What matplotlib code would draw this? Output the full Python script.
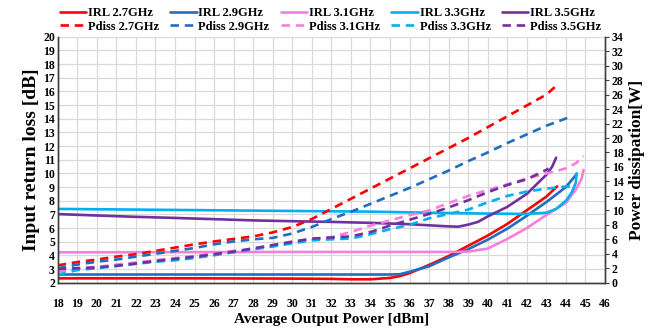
import matplotlib
matplotlib.use("Agg")
import matplotlib.pyplot as plt

plt.rcParams['font.family'] = ['Liberation Serif', 'DejaVu Serif']
plt.rcParams['font.weight'] = 'bold'

# ---- data: IRL (left axis, dB) ----
irl27_x = [18, 20, 25, 30, 32, 33, 34, 35, 35.5, 36, 37, 38, 39, 40, 41, 42, 43, 43.55]
irl27_y = [2.32, 2.32, 2.32, 2.3, 2.28, 2.25, 2.25, 2.35, 2.48, 2.7, 3.3, 3.95, 4.7, 5.45, 6.3, 7.3, 8.3, 9.05]

irl29_x = [18, 25, 30, 35, 35.5, 36, 37, 38, 39, 40, 41, 42, 43, 44, 44.55]
irl29_y = [2.6, 2.6, 2.6, 2.6, 2.62, 2.8, 3.2, 3.85, 4.45, 5.15, 5.95, 6.9, 7.9, 9.0, 9.95]

irl31_x = [18, 30, 38, 39, 40, 41, 42, 43, 44, 44.5, 44.8, 44.9]
irl31_y = [4.22, 4.25, 4.25, 4.27, 4.5, 5.2, 6.0, 6.95, 7.85, 8.8, 9.6, 10.25]

irl33_x = [18, 22, 26, 30, 34, 38, 40, 42, 43, 43.5, 44, 44.3, 44.5, 44.55]
irl33_y = [7.4, 7.35, 7.3, 7.25, 7.2, 7.1, 7.06, 7.03, 7.12, 7.4, 8.0, 8.6, 9.3, 10.0]

irl35_x = [18, 20, 22, 24, 26, 28, 30, 32, 34, 36, 37, 38, 38.5, 39, 39.5, 40, 41, 42, 43, 43.3, 43.5]
irl35_y = [7.02, 6.92, 6.82, 6.74, 6.65, 6.56, 6.5, 6.45, 6.38, 6.28, 6.2, 6.12, 6.1, 6.25, 6.45, 6.85, 7.55, 8.5, 9.9, 10.5, 11.15]

# ---- data: Pdiss (right axis, W) ----
pd27_x = [18, 19, 20, 21, 22, 23, 24, 25, 26, 27, 28, 29, 30, 31, 32, 33, 34, 35, 36, 37, 38, 39, 40, 41, 42, 43, 43.5]
pd27_y = [2.4, 2.85, 3.2, 3.6, 3.95, 4.4, 4.85, 5.3, 5.7, 6.05, 6.4, 6.95, 7.7, 8.8, 10.2, 11.6, 13.0, 14.4, 15.8, 17.2, 18.6, 20.0, 21.5, 23.0, 24.5, 26.0, 27.2]

pd29_x = [18, 19, 20, 21, 22, 23, 24, 25, 26, 27, 28, 29, 30, 31, 32, 33, 34, 35, 36, 37, 38, 39, 40, 41, 42, 43, 44, 44.2]
pd29_y = [2.0, 2.5, 2.9, 3.2, 3.6, 4.0, 4.4, 4.8, 5.3, 5.7, 6.0, 6.2, 6.8, 7.7, 8.8, 9.8, 10.9, 12.0, 13.1, 14.3, 15.5, 16.8, 18.0, 19.3, 20.5, 21.7, 22.7, 23.0]

pd31_x = [18, 19, 20, 21, 22, 23, 24, 25, 26, 27, 28, 29, 30, 31, 32, 33, 34, 35, 36, 37, 38, 39, 40, 41, 42, 43, 44, 44.5, 44.9]
pd31_y = [1.5, 2.0, 2.2, 2.5, 2.8, 3.1, 3.4, 3.7, 4.0, 4.4, 4.6, 5.2, 5.7, 6.0, 6.3, 7.0, 7.9, 8.6, 9.35, 10.0, 11.0, 12.0, 12.8, 13.6, 14.4, 15.1, 15.8, 16.5, 17.5]

pd33_x = [18, 19, 20, 21, 22, 23, 24, 25, 26, 27, 28, 29, 30, 31, 32, 33, 34, 35, 36, 37, 38, 39, 40, 41, 42, 43, 44, 44.5]
pd33_y = [1.1, 1.75, 2.0, 2.3, 2.6, 2.9, 3.1, 3.4, 3.8, 4.2, 4.6, 5.0, 5.45, 5.85, 6.0, 6.1, 6.7, 7.4, 8.0, 8.9, 9.5, 10.1, 11.1, 12.0, 12.6, 13.0, 13.3, 13.3]

pd35_x = [18, 19, 20, 21, 22, 23, 24, 25, 26, 27, 28, 29, 30, 31, 32, 33, 34, 35, 36, 37, 38, 39, 40, 41, 42, 43, 43.1]
pd35_y = [1.9, 2.0, 2.1, 2.35, 2.65, 3.0, 3.3, 3.6, 3.95, 4.3, 4.75, 5.2, 5.65, 6.1, 6.25, 6.4, 7.0, 7.9, 8.7, 9.5, 10.4, 11.4, 12.5, 13.5, 14.3, 15.6, 15.8]

labels_f = ['2.7GHz', '2.9GHz', '3.1GHz', '3.3GHz', '3.5GHz']
colors = ['#FF0000', '#1F6EC0', '#F77FDB', '#00B0F0', '#7030A0']

x_ticks = list(range(18, 47))
left_ticks = list(range(2, 21))
right_ticks = list(range(0, 35, 2))

fig = plt.figure(figsize=(6.61, 3.29), dpi=100)
ax = fig.add_axes([0.0873, 0.1407, 0.9153 - 0.0873, 0.8884 - 0.1407])
ax2 = ax.twinx()

irl = [(irl27_x, irl27_y), (irl29_x, irl29_y), (irl31_x, irl31_y), (irl33_x, irl33_y), (irl35_x, irl35_y)]
pds = [(pd27_x, pd27_y), (pd29_x, pd29_y), (pd31_x, pd31_y), (pd33_x, pd33_y), (pd35_x, pd35_y)]

handles = []
for (xs, ys), (px, py), c, lab in zip(irl, pds, colors, labels_f):
    h1, = ax.plot(xs, ys, color=c, lw=1.9, solid_capstyle='round', label='IRL ' + lab)
    h2, = ax2.plot(px, py, color=c, lw=1.9, dashes=(3.2, 2.2), label='Pdiss ' + lab)
    handles += [h1, h2]

ax.set_xlim(18, 46)
ax.set_ylim(2, 20)
ax2.set_ylim(0, 34)
ax.set_xticks(x_ticks)
ax.set_yticks(left_ticks)
ax2.set_yticks(right_ticks)
ax.grid(True, color='#D9D9D9', lw=0.9)
ax.set_axisbelow(True)

for a in (ax, ax2):
    a.spines['top'].set_visible(False)
    for s in ('left', 'bottom', 'right'):
        a.spines[s].set_color('#404040')
        a.spines[s].set_linewidth(1.0)

ax.tick_params(axis='x', length=0, pad=11, labelsize=8.5)
ax.tick_params(axis='y', length=0, pad=2, labelsize=8.5)
ax2.tick_params(axis='y', length=3, width=0.8, color='#404040', pad=2, labelsize=8.5)
for t in ax.get_xticklabels() + ax.get_yticklabels() + ax2.get_yticklabels():
    t.set_fontweight('bold')

ax.set_xlabel('Average Output Power [dBm]', fontsize=11, fontweight='bold', labelpad=2)
ax.set_ylabel('Input return loss [dB]', fontsize=14, fontweight='bold', labelpad=2)
ax2.set_ylabel('Power dissipation[W]', fontsize=12.5, fontweight='bold', labelpad=4)

fig.legend(handles=handles, loc='upper center', bbox_to_anchor=(0.5, 1.012), ncol=5,
           frameon=False, prop={'weight': 'bold', 'size': 9}, handlelength=2.1,
           handletextpad=0.15, columnspacing=0.9, labelspacing=0.12)

fig.savefig('out.png', dpi=100)
